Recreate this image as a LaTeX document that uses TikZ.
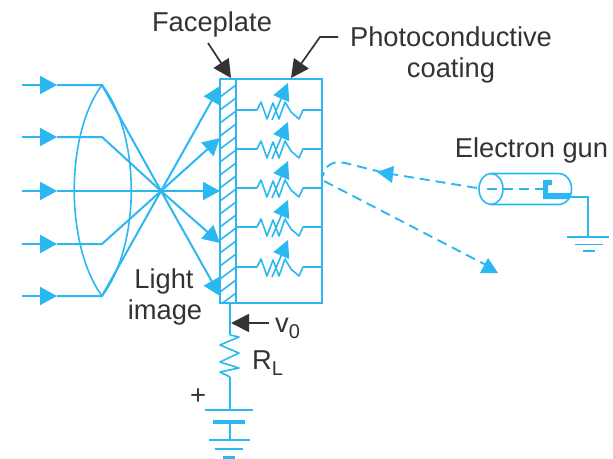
\documentclass[tikz,border=0pt]{standalone}
\usepackage{fontspec}
\setmainfont{Liberation Sans}
\usetikzlibrary{arrows.meta,calc}
\definecolor{vblue}{HTML}{2BB8F2}
\definecolor{vtext}{HTML}{333333}
\tikzset{
  wire/.style={draw=vblue,line width=2pt},
  thin wire/.style={draw=vblue,line width=1.6pt},
  ray/.style={draw=vblue,line width=2pt,-{Triangle[length=17pt,width=18pt]}},
  vtip/.style={draw=vblue,line width=1.6pt,-{Triangle[length=17pt,width=17pt]}},
  beam/.style={draw=vblue,line width=1.9pt,dash pattern=on 10pt off 6pt},
  leader/.style={draw=black!80,line width=1.7pt,-{Triangle[length=18pt,width=18pt]}},
  lbl/.style={font=\fontsize{27.3}{30}\selectfont,text=vtext,inner sep=0pt,anchor=base},
}
\begin{document}
\begin{tikzpicture}[x=1pt,y=-1pt]
\useasboundingbox (0,0) rectangle (613,458);
% labels
\node[lbl] (face) at (212,31) {Faceplate};
\node[lbl] (photo) at (451,46) {Photoconductive};
\node[lbl] (coat) at (451,77) {coating};
\node[lbl] (egun) at (531.5,157) {Electron gun};
\node[lbl] (light) at (164,288) {Light};
\node[lbl] (image) at (165,319) {image};
\node[lbl,anchor=base west] (vo) at (275,332) {v\raisebox{-6pt}{\fontsize{20}{22}\selectfont 0}};
\node[lbl,anchor=base west] (rl) at (252,369) {R\raisebox{-6pt}{\fontsize{20}{22}\selectfont L}};
\node[lbl] (plus) at (198,404) {+};
% focal point, target
\coordinate (F) at (161,191);
% lens
\coordinate (LT) at (102,85);
\coordinate (LB) at (102,296);
\draw[thin wire] (LT) .. controls (65,135) and (65,245) .. (LB);
\draw[thin wire] (LT) .. controls (141,135) and (141,245) .. (LB);
% incoming rays
\foreach \n/\y in {a/85,b/137,c/191,d/244,e/296}{
  \coordinate (s\n) at (22,\y);
  \coordinate (h\n) at (57,\y);
  \coordinate (m\n) at (102,\y);
  \draw[ray] (s\n) -- (h\n);
  \draw[wire] (h\n) -- (m\n) -- (F);
}
% outgoing rays
\foreach \y in {86,138,191,243,296}{
  \coordinate (t) at (220,\y);
  \draw[ray] (F) -- (t);
}
% target box
\coordinate (A) at (220,79);
\coordinate (B) at (236,79);
\coordinate (C) at (322,79);
\coordinate (D) at (322,303);
\coordinate (E) at (220,303);
\coordinate (G) at (236,303);
\draw[wire] (A) -- (C) -- (D) -- (E) -- cycle;
\draw[wire] (B) -- (G);
\begin{scope}
\clip (A) rectangle (G);
\foreach \y in {88,101,...,310}{
  \draw[thin wire] (220,\y+9) -- (236,\y-3);
}
\end{scope}
% photoconductive cells
\foreach \y in {110,149,188,227,267}{
  \draw[thin wire,line join=round] (236,\y) -- (257,\y) -- (261,\y-8) -- (267,\y+9) -- (273,\y-7) -- (279,\y+9) -- (285,\y-8) -- (291,\y+2) -- (299,\y+9) -- (303,\y) -- (322,\y);
  \coordinate (vs) at (272,\y+10);
  \coordinate (ve) at (288,\y-27);
  \draw[vtip] (vs) -- (ve);
}
% beams
\coordinate (g0) at (477,188);
\coordinate (g1) at (385,173);
\coordinate (r0) at (323,176);
\coordinate (r1) at (324,181);
\coordinate (r2) at (488,266);
\draw[beam] (g0) -- (g1) -- (345,163) .. controls (332,160) and (325,166) .. (r0);
\fill[vblue] (377,172) -- (394,166) -- (392,183) -- cycle;
\draw[beam] (r1) -- (r2);
\fill[vblue] (480,273) -- (488,258) -- (498,273) -- cycle;
% gun
\coordinate (gl) at (491,189);
\draw[thin wire] (gl) ellipse [x radius=12,y radius=15.5];
\draw[thin wire] (491,173.5) -- (558,173.5) .. controls (576,173.5) and (576,204.5) .. (558,204.5) -- (491,204.5);
\draw[beam] (487,189) -- (543,189);
\fill[vblue] (543,180) -- (552,180) -- (552,185) -- (548,185) -- (548,193) -- (570,193) -- (570,199) -- (543,199) -- cycle;
% gun ground
\coordinate (gw0) at (570,197);
\coordinate (gw1) at (588,197);
\coordinate (gw2) at (588,237);
\draw[thin wire] (gw0) -- (gw1) -- (gw2);
\draw[thin wire] (567,237) -- (609,237);
\draw[thin wire] (575,244.5) -- (603,244.5);
\draw[thin wire] (583,251) -- (595,251);
% output
\coordinate (w0) at (230,303);
\coordinate (w1) at (230,335);
\coordinate (w2) at (230,377);
\coordinate (w3) at (230,410);
\coordinate (w4) at (230,422);
\coordinate (w5) at (230,440);
\draw[wire] (w0) -- (w1);
\draw[thin wire,line join=round] (w1) -- (239,337) -- (220,345) -- (239,353) -- (220,362) -- (239,368) -- (220,372) -- (w2);
\draw[wire] (w2) -- (w3);
\draw[wire] (w4) -- (w5);
\draw[wire] (205,410) -- (253,410);
\draw[draw=vblue,line width=3.5pt] (213,422) -- (245,422);
\draw[wire] (209,440) -- (250,440);
\draw[wire] (215,449) -- (243,449);
\draw[draw=vblue,line width=3pt] (223,457) -- (235,457);
% leaders
\coordinate (v0s) at (269,323);
\coordinate (v0e) at (231,323);
\draw[leader] (v0s) -- (v0e);
\coordinate (fs) at (208,43);
\coordinate (fe) at (231,78);
\draw[leader] (fs) -- (fe);
\coordinate (ps0) at (338,37);
\coordinate (ps1) at (320,37);
\coordinate (pe) at (291,78);
\draw[leader] (ps0) -- (ps1) -- (pe);
\end{tikzpicture}
\end{document}
